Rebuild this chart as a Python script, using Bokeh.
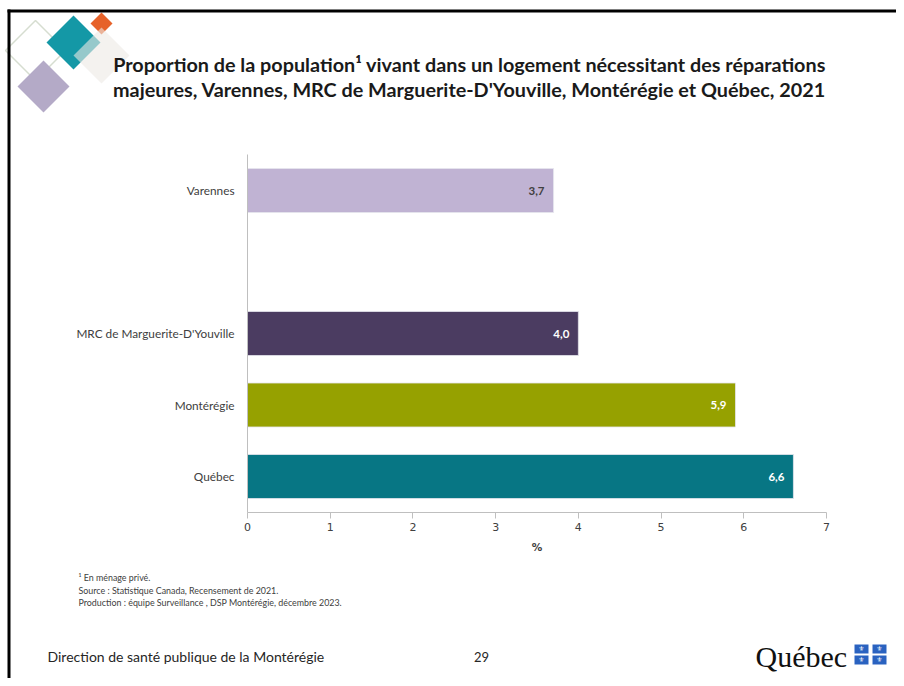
from bokeh.plotting import figure
from bokeh.models import Range1d, FixedTicker, Label, PolyAnnotation, BoxAnnotation, ColumnDataSource
from bokeh.core.properties import value
from bokeh.embed import file_html
from bokeh.resources import INLINE

# ---- data ----
categories = ["Québec", "Montérégie", "MRC de Marguerite-D'Youville", "", "Varennes"]  # bottom -> top
bar_categories = ["Varennes", "MRC de Marguerite-D'Youville", "Montérégie", "Québec"]
values = [3.7, 4.0, 5.9, 6.6]
value_labels = ["3,7", "4,0", "5,9", "6,6"]
bar_colors = ["#c0b3d3", "#4b3c61", "#96a100", "#077684"]
label_colors = ["#404040", "#ffffff", "#ffffff", "#ffffff"]
x_ticks = [0, 1, 2, 3, 4, 5, 6, 7]

title_lines = ["Proportion de la population\u00b9 vivant dans un logement nécessitant des réparations",
               "majeures, Varennes, MRC de Marguerite-D'Youville, Montérégie et Québec, 2021"]
notes = ["\u00b9 En ménage privé.",
         "Source : Statistique Canada, Recensement de 2021.",
         "Production : équipe Surveillance , DSP Montérégie, décembre 2023."]

# category slot positions (slot centres) derived from the category list
slot_pos = {c: i + 0.5 for i, c in enumerate(categories)}
bar_y = [slot_pos[c] for c in bar_categories]
cat_ticks = [slot_pos[c] for c in categories if c]
cat_overrides = {slot_pos[c]: c for c in categories if c}

# ---- layout (canvas pixels) ----
W, H = 896, 678
X0, X7 = 247, 826.0          # pixel of value 0 and value 7
PX_PER_X = (X7 - X0) / 7
Y_BASE, SLOT = 511.75, 71.5  # pixel of axis baseline, pixel per category slot

x_range = Range1d(-X0 / PX_PER_X, (W - X0) / PX_PER_X)
y_range = Range1d((Y_BASE - H) / SLOT, Y_BASE / SLOT)

p = figure(width=W, height=H, output_backend="svg", toolbar_location=None,
           x_range=x_range, y_range=y_range, min_border=0)
p.min_border_left = p.min_border_right = p.min_border_top = p.min_border_bottom = 0
p.outline_line_color = None
p.background_fill_color = "white"
p.border_fill_color = "white"
p.xgrid.grid_line_color = None
p.ygrid.grid_line_color = None

src = ColumnDataSource(dict(y=bar_y, val=values, lab=value_labels,
                            col=bar_colors, lcol=label_colors))
p.hbar(y="y", right="val", left=0, height=0.615, source=src,
       fill_color="col", line_color="#e6e6ee", line_width=0.8)
p.text(x="val", y="y", text="lab", source=src, text_color="lcol",
       text_font=value("Lato"), text_font_style="bold", text_font_size="11.5px",
       text_align="right", text_baseline="middle", x_offset=-9)

# axes
xa = p.xaxis[0]
xa.fixed_location = 0
xa.bounds = (0, 7)
xa.ticker = FixedTicker(ticks=x_ticks)
xa.axis_line_color = "#bfbfbf"
xa.major_tick_line_color = "#bfbfbf"
xa.major_tick_out = 6
xa.major_tick_in = 0
xa.minor_tick_line_color = None
xa.major_label_text_font = "DejaVu Sans"
xa.major_label_text_font_size = "11px"
xa.major_label_text_color = "#404040"
xa.major_label_standoff = 5
xa.axis_label = "%"
xa.axis_label_text_font = "DejaVu Sans"
xa.axis_label_text_font_style = "bold"
xa.axis_label_text_font_size = "10.5px"
xa.axis_label_text_color = "#404040"
xa.axis_label_standoff = 6

ya = p.yaxis[0]
ya.fixed_location = 0
ya.bounds = (0, len(categories))
ya.ticker = FixedTicker(ticks=cat_ticks)
ya.major_label_overrides = cat_overrides
ya.axis_line_color = "#bfbfbf"
ya.major_tick_line_color = None
ya.minor_tick_line_color = None
ya.major_label_text_font = "Lato"
ya.major_label_text_font_size = "11.8px"
ya.major_label_text_color = "#404040"
ya.major_label_standoff = 7


def sx(X):
    return X


def sy(Y):
    return H - Y


def diamond(cx, cy, r, color, alpha=1.0, line=None, fill=True):
    xs = [sx(cx), sx(cx + r), sx(cx), sx(cx - r)]
    ys = [sy(cy - r), sy(cy), sy(cy + r), sy(cy)]
    p.add_layout(PolyAnnotation(xs=xs, ys=ys, xs_units="screen", ys_units="screen",
                                fill_color=color if fill else "white",
                                fill_alpha=alpha if fill else 0,
                                line_color=line if line else "white", line_width=1.5,
                                line_alpha=1.0 if line else 0))


# decorative logo
diamond(35, 50, 30, None, line="#d6ddd0", fill=False)
diamond(43, 86, 26, "#b4aac7")
diamond(73, 42, 27, "#1498a6")
diamond(101, 23, 11, "#e6622a")
diamond(101, 55, 28, "#ece9e5", alpha=0.6)


def box(l, r, t, b, color):
    p.add_layout(BoxAnnotation(left=sx(l), right=sx(r), top=sy(t), bottom=sy(b),
                               left_units="screen", right_units="screen",
                               top_units="screen", bottom_units="screen",
                               fill_color=color, fill_alpha=1, line_color=None))


# slide border (top and left)
box(7, W, 9, 12, "black")
box(7, 10, 9, H, "black")


def label(X, Y, text, size, color="#262626", font="Lato", style="normal", align="left"):
    p.add_layout(Label(x=sx(X), y=sy(Y), x_units="screen", y_units="screen", text=text,
                       text_font=font, text_font_size=size, text_color=color,
                       text_font_style=style, text_align=align, text_baseline="middle"))


label(469, 63, title_lines[0], "19.8px", color="#1a1a1a", style="bold", align="center")
label(469, 88, title_lines[1], "19.8px", color="#1a1a1a", style="bold", align="center")
for i, n in enumerate(notes):
    label(78, 577 + i * 12.5, n, "8.9px", color="#404040")
label(47, 656, "Direction de santé publique de la Montérégie", "14px", color="#262626")
label(481, 656, "29", "13px", color="#262626", align="center")
label(755, 656, "Québec", "30px", color="#111111", font="Liberation Serif")

# flag squares
for (x0, y0) in [(854, 644), (872, 644), (854, 655), (872, 655)]:
    box(x0, x0 + 14, y0, y0 + 9, "#2a62c0")
    label(x0 + 7, y0 + 4.5, "\u269c", "7px", color="white", font="DejaVu Sans", align="center")

open("out.html", "w").write(file_html(p, INLINE))
